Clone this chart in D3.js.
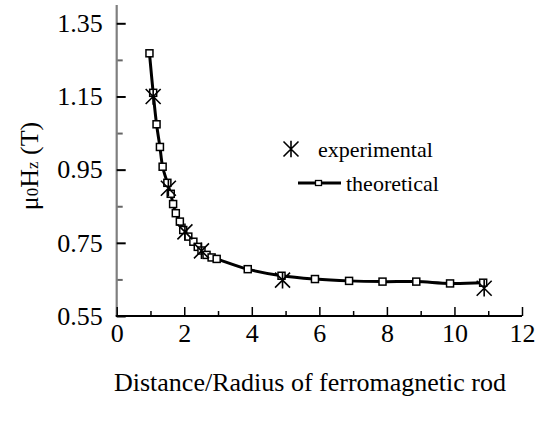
<!DOCTYPE html>
<html><head><meta charset="utf-8">
<script src="https://cdn.jsdelivr.net/npm/d3@7"></script>
<style>
body{margin:0;background:#fff;}
svg{display:block;font-family:"Liberation Serif","Times New Roman",serif;}
</style></head>
<body><svg id="c" width="537" height="421"></svg>
<script>
// Theoretical curve (squares)
const theoX = [0.97,1.08,1.18,1.28,1.36,1.50,1.60,1.67,1.75,1.87,1.97,2.12,2.27,2.40,2.51,2.66,2.81,2.96,3.88,4.88,5.87,6.88,7.87,8.87,9.87,10.85];
const theoY = [1.268,1.160,1.074,1.012,0.958,0.914,0.884,0.856,0.831,0.808,0.785,0.767,0.753,0.739,0.729,0.717,0.710,0.706,0.678,0.660,0.651,0.646,0.644,0.644,0.639,0.641];
// Experimental points (stars)
const expX = [1.08,1.53,2.02,2.51,4.91,10.88];
const expY = [1.150,0.899,0.780,0.728,0.648,0.626];
const xMajor = [0,2,4,6,8,10,12];
const xMinor = [1,3,5,7,9,11];
const yMajor = [0.55,0.75,0.95,1.15,1.35];
const yMinor = [0.65,0.85,1.05,1.25];
const legendLabels = ["experimental","theoretical"];

const svg = d3.select("#c");
const x = d3.scaleLinear().domain([0,12]).range([116.7,522]);
const y = d3.scaleLinear().domain([0.55,1.40]).range([316,5]);

// y axis
const gy = svg.append("g").attr("transform","translate(116.7,0)");
gy.call(d3.axisLeft(y).tickValues(yMinor).tickSize(-6).tickFormat(""));
gy.call(g=>{g.select(".domain").remove(); g.selectAll("line").attr("stroke","#666").attr("stroke-width",2);});
const gy2 = svg.append("g").attr("transform","translate(116.7,0)");
gy2.call(d3.axisLeft(y).tickValues(yMajor).tickSize(-9).tickPadding(14).tickFormat(d3.format(".2f")));
gy2.select(".domain").attr("stroke","#7f7f7f").attr("stroke-width",2.2).attr("d","M0,"+y(1.40)+"V"+y(0.55));
gy2.selectAll("line").attr("stroke","#000").attr("stroke-width",2);
gy2.selectAll("text").attr("font-size",26).attr("fill","#000").attr("font-family","Liberation Serif");

// x axis
const gx = svg.append("g").attr("transform","translate(0,316)");
gx.call(d3.axisBottom(x).tickValues(xMinor).tickSize(-5).tickFormat(""));
gx.call(g=>{g.select(".domain").remove(); g.selectAll("line").attr("stroke","#000").attr("stroke-width",1.5);});
const gx2 = svg.append("g").attr("transform","translate(0,316)");
gx2.call(d3.axisBottom(x).tickValues(xMajor).tickSize(-9).tickPadding(8).tickFormat(d3.format("d")));
gx2.select(".domain").attr("stroke","#000").attr("stroke-width",2).attr("d","M"+(x(0)-1)+",0H"+x(12));
gx2.selectAll("line").attr("stroke","#000").attr("stroke-width",1.5);
gx2.selectAll("text").attr("font-size",26).attr("fill","#000").attr("font-family","Liberation Serif");

// titles
svg.append("text").attr("x",310).attr("y",391).attr("text-anchor","middle")
  .attr("font-size",26).text("Distance/Radius of ferromagnetic rod");
const yt = svg.append("text").attr("transform","translate(38,166) rotate(-90)").attr("text-anchor","middle").attr("font-size",26);
yt.append("tspan").text("μ");
yt.append("tspan").attr("font-size",17).text("0");
yt.append("tspan").text("H");
yt.append("tspan").attr("font-size",17).text("z");
yt.append("tspan").text(" (T)");

// curve
const theo = theoX.map((d,i)=>[d,theoY[i]]);
svg.append("path").datum(theo).attr("fill","none").attr("stroke","#000").attr("stroke-width",3)
  .attr("d",d3.line().x(d=>x(d[0])).y(d=>y(d[1])).curve(d3.curveCatmullRom.alpha(0.5)));
const sq = 7;
svg.append("g").selectAll("rect").data(theo).join("rect")
  .attr("x",d=>x(d[0])-sq/2).attr("y",d=>y(d[1])-sq/2).attr("width",sq).attr("height",sq)
  .attr("fill","#fff").attr("stroke","#000").attr("stroke-width",1.5);

function star(g,cx,cy,r){
  const p = "M"+(cx-r)+","+(cy-r)+"L"+(cx+r)+","+(cy+r)+"M"+(cx-r)+","+(cy+r)+"L"+(cx+r)+","+(cy-r)+"M"+cx+","+(cy-r*1.1)+"L"+cx+","+(cy+r*1.1);
  g.append("path").attr("d",p).attr("stroke","#000").attr("stroke-width",1.6).attr("fill","none");
}
const sg = svg.append("g");
expX.forEach((d,i)=>star(sg,x(d),y(expY[i]),7.5));

// legend
const lg = svg.append("g");
star(lg,291,149,7.5);
lg.append("text").attr("x",318).attr("y",157).attr("font-size",22).text(legendLabels[0]);
lg.append("line").attr("x1",298).attr("x2",341).attr("y1",183).attr("y2",183).attr("stroke","#000").attr("stroke-width",3);
lg.append("rect").attr("x",315.5).attr("y",180.5).attr("width",6).attr("height",5).attr("fill","#fff").attr("stroke","#000").attr("stroke-width",1.3);
lg.append("text").attr("x",346).attr("y",191).attr("font-size",22).text(legendLabels[1]);
</script></body></html>
